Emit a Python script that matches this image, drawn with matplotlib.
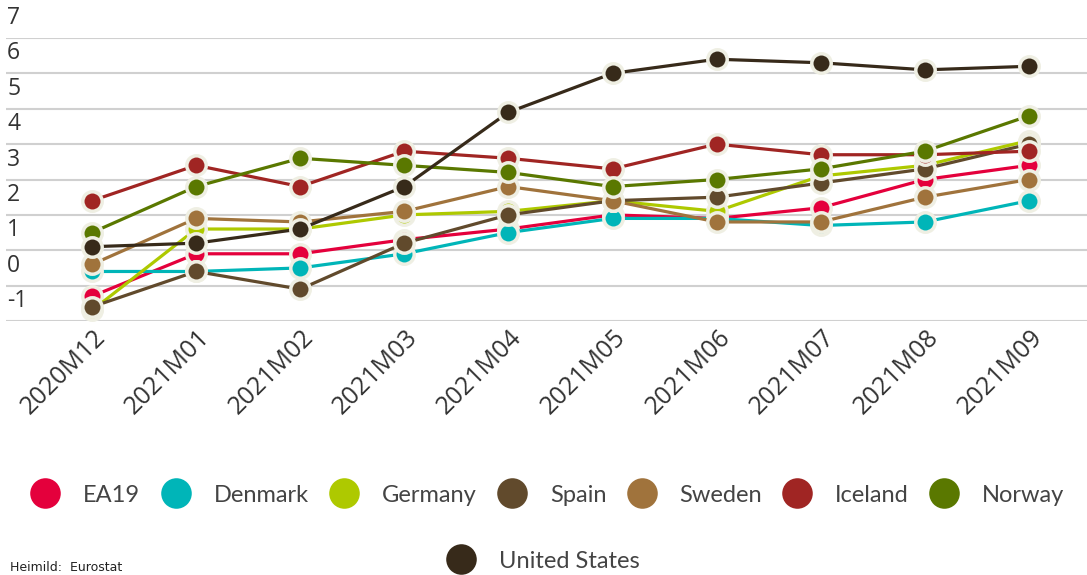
import matplotlib.pyplot as plt
from matplotlib.lines import Line2D
import matplotlib.transforms as mtransforms

months = ['2020M12', '2021M01', '2021M02', '2021M03', '2021M04',
          '2021M05', '2021M06', '2021M07', '2021M08', '2021M09']

ea19 = [-0.3, 0.9, 0.9, 1.3, 1.6, 2.0, 1.9, 2.2, 3.0, 3.4]
denmark = [0.4, 0.4, 0.5, 0.9, 1.5, 1.9, 1.9, 1.7, 1.8, 2.4]
germany = [-0.7, 1.6, 1.6, 2.0, 2.1, 2.4, 2.1, 3.1, 3.4, 4.1]
spain = [-0.6, 0.4, -0.1, 1.2, 2.0, 2.4, 2.5, 2.9, 3.3, 4.0]
sweden = [0.6, 1.9, 1.8, 2.1, 2.8, 2.4, 1.8, 1.8, 2.5, 3.0]
iceland = [2.4, 3.4, 2.8, 3.8, 3.6, 3.3, 4.0, 3.7, 3.7, 3.8]
norway = [1.5, 2.8, 3.6, 3.4, 3.2, 2.8, 3.0, 3.3, 3.8, 4.8]
usa = [1.1, 1.2, 1.6, 2.8, 4.9, 6.0, 6.4, 6.3, 6.1, 6.2]

names = ['EA19', 'Denmark', 'Germany', 'Spain', 'Sweden', 'Iceland', 'Norway', 'United States']
series = [ea19, denmark, germany, spain, sweden, iceland, norway, usa]
colors = ['#e4003c', '#00b5b8', '#aec900', '#614a2c', '#a0733c', '#a02523', '#5a7800', '#372a1a']

y_ticks = [-1, 0, 1, 2, 3, 4, 5, 6, 7]

plt.rcParams['font.family'] = ['Open Sans', 'DejaVu Sans']

fig = plt.figure(figsize=(10.87, 5.75), dpi=100)
ax = fig.add_axes([6 / 1087, 1 - 321 / 575, 1 - 6 / 1087, (321 - 38) / 575])

x = list(range(len(months)))
for name, vals, col in zip(names, series, colors):
    ax.plot(x, vals, color=col, lw=2.3, marker='o', ms=14, mew=2.5,
            mec='#efefe3', mfc=col, label=name, solid_capstyle='round', clip_on=False)

ax.set_xlim((6 - 92) / 104.1, (1087 - 92) / 104.1)
ax.set_ylim(-1, 7)
ax.set_yticks(y_ticks)
ax.yaxis.grid(True, color='#d0d0d0', lw=1.5)
ax.set_axisbelow(True)
ax.tick_params(axis='y', length=0, labelleft=False)
for s in ax.spines.values():
    s.set_visible(False)

# y labels sit just above their gridlines, inside the plot
trans = mtransforms.blended_transform_factory(ax.transAxes, ax.transData)
offset = mtransforms.ScaledTranslation(0, 8 / 100, fig.dpi_scale_trans)
for v in y_ticks:
    ax.text(0.001, v, str(v), transform=trans + offset, ha='left', va='bottom',
            fontsize=16.5, color='#333333', clip_on=False)

ax.set_xticks(x)
ax.set_xticklabels(months, rotation=45, ha='right', va='top', rotation_mode='anchor',
                   fontsize=18, color='#333333')
ax.tick_params(axis='x', length=0, pad=3)
for lbl in ax.get_xticklabels():
    lbl.set_transform(lbl.get_transform() + mtransforms.ScaledTranslation(1 / 100, 0, fig.dpi_scale_trans))

handles = [Line2D([], [], ls='none', marker='o', ms=22, mfc=c, mec=c, mew=0) for c in colors]
leg1 = fig.legend(handles[:7], names[:7], ncol=7, loc='center', bbox_to_anchor=(0.504, 1 - 495 / 575),
                  frameon=False, handletextpad=1.0, columnspacing=0.9,
                  handlelength=1.2, prop={'family': 'Lato', 'size': 17})
for t in leg1.get_texts():
    t.set_color('#444444')
leg2 = fig.legend(handles[7:], names[7:], loc='center', bbox_to_anchor=(0.5, 1 - 561 / 575),
                  frameon=False, handletextpad=1.0, handlelength=1.2,
                  prop={'family': 'Lato', 'size': 17})
for t in leg2.get_texts():
    t.set_color('#444444')

fig.text(10 / 1087, 1 / 575, 'Heimild:  Eurostat', fontsize=9, color='#222222',
         ha='left', va='bottom', family=['Liberation Sans Narrow', 'DejaVu Sans'])

fig.savefig('out.png', dpi=100)
